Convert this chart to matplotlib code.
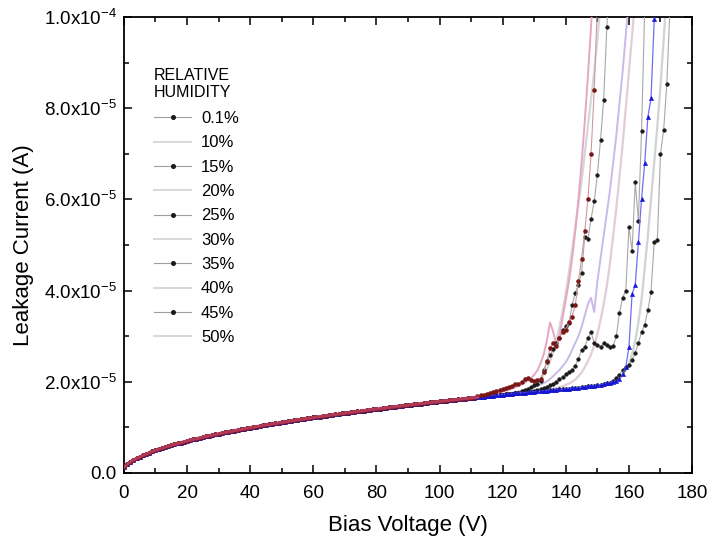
import numpy as np
import matplotlib
matplotlib.use("Agg")
import matplotlib.pyplot as plt
from matplotlib.lines import Line2D
from matplotlib.ticker import MultipleLocator, FixedLocator, FixedFormatter

plt.rcParams["font.family"] = ["Liberation Sans", "DejaVu Sans"]
plt.rcParams["mathtext.fontset"] = "custom"
plt.rcParams["mathtext.rm"] = "Liberation Sans"
plt.rcParams["mathtext.default"] = "regular"

# Common pre-breakdown leakage current (uA), 1 V steps from 0 V to 157 V
base_current = [
    1.20, 1.90, 2.40, 2.85, 3.20, 3.51, 3.85, 4.15, 4.44, 4.71,
    4.96, 5.21, 5.44, 5.66, 5.87, 6.08, 6.28, 6.47, 6.66, 6.84,
    7.02, 7.19, 7.36, 7.53, 7.69, 7.85, 8.01, 8.16, 8.31, 8.45,
    8.60, 8.74, 8.88, 9.02, 9.15, 9.29, 9.42, 9.55, 9.68, 9.80,
    9.93, 10.05, 10.17, 10.29, 10.41, 10.53, 10.65, 10.76, 10.88, 10.99,
    11.10, 11.21, 11.32, 11.43, 11.54, 11.64, 11.75, 11.85, 11.96, 12.06,
    12.16, 12.26, 12.36, 12.46, 12.56, 12.66, 12.75, 12.85, 12.95, 13.04,
    13.14, 13.23, 13.32, 13.41, 13.51, 13.60, 13.69, 13.78, 13.87, 13.95,
    14.04, 14.13, 14.22, 14.30, 14.39, 14.47, 14.56, 14.64, 14.73, 14.81,
    14.89, 14.98, 15.06, 15.14, 15.22, 15.30, 15.38, 15.46, 15.54, 15.62,
    15.70, 15.78, 15.86, 15.93, 16.01, 16.09, 16.16, 16.24, 16.32, 16.39,
    16.47, 16.54, 16.62, 16.69, 16.76, 16.84, 16.91, 16.98, 17.05, 17.13,
    17.20, 17.26, 17.33, 17.39, 17.45, 17.51, 17.57, 17.63, 17.69, 17.75,
    17.81, 17.87, 17.93, 17.99, 18.05, 18.11, 18.17, 18.23, 18.30, 18.37,
    18.44, 18.51, 18.58, 18.65, 18.73, 18.81, 18.89, 18.97, 19.06, 19.15,
    19.25, 19.36, 19.48, 19.62, 19.78, 19.96, 20.18, 20.45,
]
base_voltage = np.arange(len(base_current))

# Breakdown branches (uA), 1 V steps starting at the given voltage
rh01_start = 155
rh01_tail = [20.2, 20.8, 21.5, 22.5, 23.2, 23.7, 24.8, 26.3, 28.5, 30.9,
             32.5, 35.7, 39.7, 50.6, 51.0, 70.0, 75.2, 85.3, 102.0]

rh10_start = 156
rh10_tail = [20.3, 20.8, 21.5, 22.5, 24.0, 26.0, 29.0, 33.0, 38.0, 45.0,
             52.0, 60.0, 68.0, 76.0, 85.0, 95.0, 106.0]

rh15_start = 130
rh15_tail = [18.0, 18.2, 18.4, 18.6, 18.9, 19.2, 19.6, 20.0, 20.5, 21.0,
             21.6, 22.1, 22.6, 23.5, 25.0, 27.0, 27.6, 29.6, 30.9, 28.5,
             28.0, 27.6, 28.5, 28.0, 27.6, 27.8, 30.0, 35.0, 38.4, 40.0,
             54.0, 48.7, 63.8, 55.3, 75.0, 102.0]

rh20_start = 118
rh20_tail = [17.4, 17.6, 17.8, 18.0, 18.2, 18.5, 18.8, 19.1, 19.5, 19.8,
             20.3, 20.8, 21.5, 22.5, 24.0, 26.0, 29.0, 33.0, 31.0, 28.0,
             30.0, 34.0, 38.0, 42.0, 47.0, 53.0, 60.0, 68.0, 77.0, 87.0,
             98.0, 110.0]

rh25_start = 112
rh25_tail = [16.8, 17.0, 17.2, 17.4, 17.6, 17.8, 18.0, 18.2, 18.4, 18.6,
             18.9, 19.1, 19.4, 19.6, 20.0, 20.6, 20.9, 20.4, 20.2, 20.3,
             20.6, 22.2, 24.5, 27.3, 28.5, 27.9, 29.6, 31.0, 31.4, 33.0,
             34.3, 36.8, 42.0, 47.0, 53.0, 60.0, 70.0, 84.0, 103.0]

rh30_start = 122
rh30_tail = [17.5, 17.6, 17.7, 17.9, 18.0, 18.2, 18.4, 18.6, 18.8, 19.1,
             19.4, 19.7, 20.1, 20.6, 21.2, 21.9, 22.6, 23.4, 24.3, 25.5,
             27.0, 28.5, 30.0, 32.0, 34.5, 37.0, 38.4, 35.3, 42.0, 47.0,
             52.0, 57.0, 62.0, 68.0, 74.0, 81.0, 88.0, 96.0, 104.0]

rh35_start = 126
rh35_tail = [18.0, 18.2, 18.5, 18.8, 19.2, 19.6, 20.2, 22.6, 24.3, 25.8,
             27.2, 28.4, 29.6, 31.4, 32.2, 32.9, 36.8, 39.5, 41.2, 43.9,
             51.8, 51.3, 55.7, 59.6, 65.4, 73.0, 81.8, 97.8, 112.0]

rh40_start = 125
rh40_tail = [17.6, 17.8, 18.0, 18.3, 18.7, 19.2, 19.8, 20.5, 21.5, 22.8,
             24.5, 26.5, 29.0, 32.0, 35.5, 39.5, 44.0, 49.0, 54.0, 59.0,
             64.0, 70.0, 76.0, 82.0, 88.0, 95.0, 103.0]

rh45_start = 157
rh45_tail = [20.5, 21.6, 23.2, 27.6, 39.3, 41.2, 50.7, 60.1, 68.0, 78.1,
             82.2, 99.5, 115.0]

rh50_start = 135
rh50_tail = [18.2, 18.4, 18.6, 18.8, 19.0, 19.3, 19.6, 20.0, 20.5, 21.2,
             22.0, 23.2, 24.5, 26.0, 28.0, 30.5, 33.5, 37.0, 41.0, 46.0,
             52.0, 58.0, 65.0, 72.0, 80.0, 88.0, 96.0, 104.0]

humidity_labels = ["0.1%", "10%", "15%", "20%", "25%", "30%", "35%", "40%", "45%", "50%"]
starts = [rh01_start, rh10_start, rh15_start, rh20_start, rh25_start,
          rh30_start, rh35_start, rh40_start, rh45_start, rh50_start]
tails = [rh01_tail, rh10_tail, rh15_tail, rh20_tail, rh25_tail,
         rh30_tail, rh35_tail, rh40_tail, rh45_tail, rh50_tail]

# Plot styles: (line colour, line width, marker, marker colour, marker size, zorder)
styles = [
    ("#a8a8a8", 0.8, "o", "#1a1a1a", 2.6, 5),
    ("#d2d2d2", 1.6, None, None, 0, 2),
    ("#a8a8a8", 0.8, "o", "#1a1a1a", 2.6, 5),
    ("#e7a6c4", 1.4, None, None, 0, 3),
    ("#d09a9a", 0.8, "o", "#7a1616", 2.8, 7),
    ("#cbb9e8", 1.4, None, None, 0, 3),
    ("#a8a8a8", 0.8, "o", "#1a1a1a", 2.6, 5),
    ("#d6d6d6", 1.6, None, None, 0, 2),
    ("#6f6ff0", 0.9, "^", "#1515d8", 3.0, 6),
    ("#e2cdd6", 1.6, None, None, 0, 2),
]

fig = plt.figure(figsize=(7.12, 5.48), dpi=100)
ax = fig.add_axes([0.174, 0.137, 0.798, 0.832])

for label, start, tail, st in zip(humidity_labels, starts, tails, styles):
    lc, lw, mk, mc, ms, zo = st
    v = np.concatenate([base_voltage[:start], start + np.arange(len(tail))])
    i = np.concatenate([np.asarray(base_current[:start]), np.asarray(tail)]) * 1e-6
    ax.plot(v, i, color=lc, lw=lw, marker=mk, ms=ms, mfc=mc, mec=mc,
            mew=0.4, zorder=zo, clip_on=True)

# pink sheen over the shared low-voltage part
ax.plot(base_voltage[:113], np.asarray(base_current[:113]) * 1e-6,
        color="#d8507e", lw=2.4, alpha=0.6, zorder=8)

ax.set_xlim(0, 180)
ax.set_ylim(0, 1.0e-4)
ax.xaxis.set_major_locator(MultipleLocator(20))
ax.xaxis.set_minor_locator(MultipleLocator(10))
yt = [0, 2e-5, 4e-5, 6e-5, 8e-5, 1e-4]
ytl = ["0.0", "2.0x10$^{-5}$", "4.0x10$^{-5}$", "6.0x10$^{-5}$",
       "8.0x10$^{-5}$", "1.0x10$^{-4}$"]
ax.yaxis.set_major_locator(FixedLocator(yt))
ax.yaxis.set_major_formatter(FixedFormatter(ytl))
ax.yaxis.set_minor_locator(MultipleLocator(1e-5))

ax.tick_params(which="both", direction="in", top=True, right=True,
               width=1.1, labelsize=13.5)
ax.tick_params(which="major", length=6)
ax.tick_params(which="minor", length=3.5)
ax.tick_params(axis="x", pad=9)
ax.tick_params(axis="y", pad=5)
for s in ax.spines.values():
    s.set_linewidth(1.3)

ax.set_xlabel("Bias Voltage (V)", fontsize=16, labelpad=9)
ax.set_ylabel("Leakage Current (A)", fontsize=16, labelpad=7)

handles = []
for st in styles:
    lc, lw, mk, mc, ms, zo = st
    if mk:
        handles.append(Line2D([], [], color="#a0a0a0", lw=0.8, marker="o",
                              ms=2.6, mfc="#1a1a1a", mec="#1a1a1a"))
    else:
        handles.append(Line2D([], [], color="#d8d8d8", lw=1.4))
leg = ax.legend(handles, humidity_labels, title="RELATIVE\nHUMIDITY",
                loc="upper left", bbox_to_anchor=(0.027, 0.922), frameon=False,
                fontsize=12, title_fontsize=11.5, handlelength=2.2,
                handletextpad=0.6, labelspacing=0.56, alignment="left")
leg._legend_box.sep = 8

fig.savefig("out.png", dpi=100)
